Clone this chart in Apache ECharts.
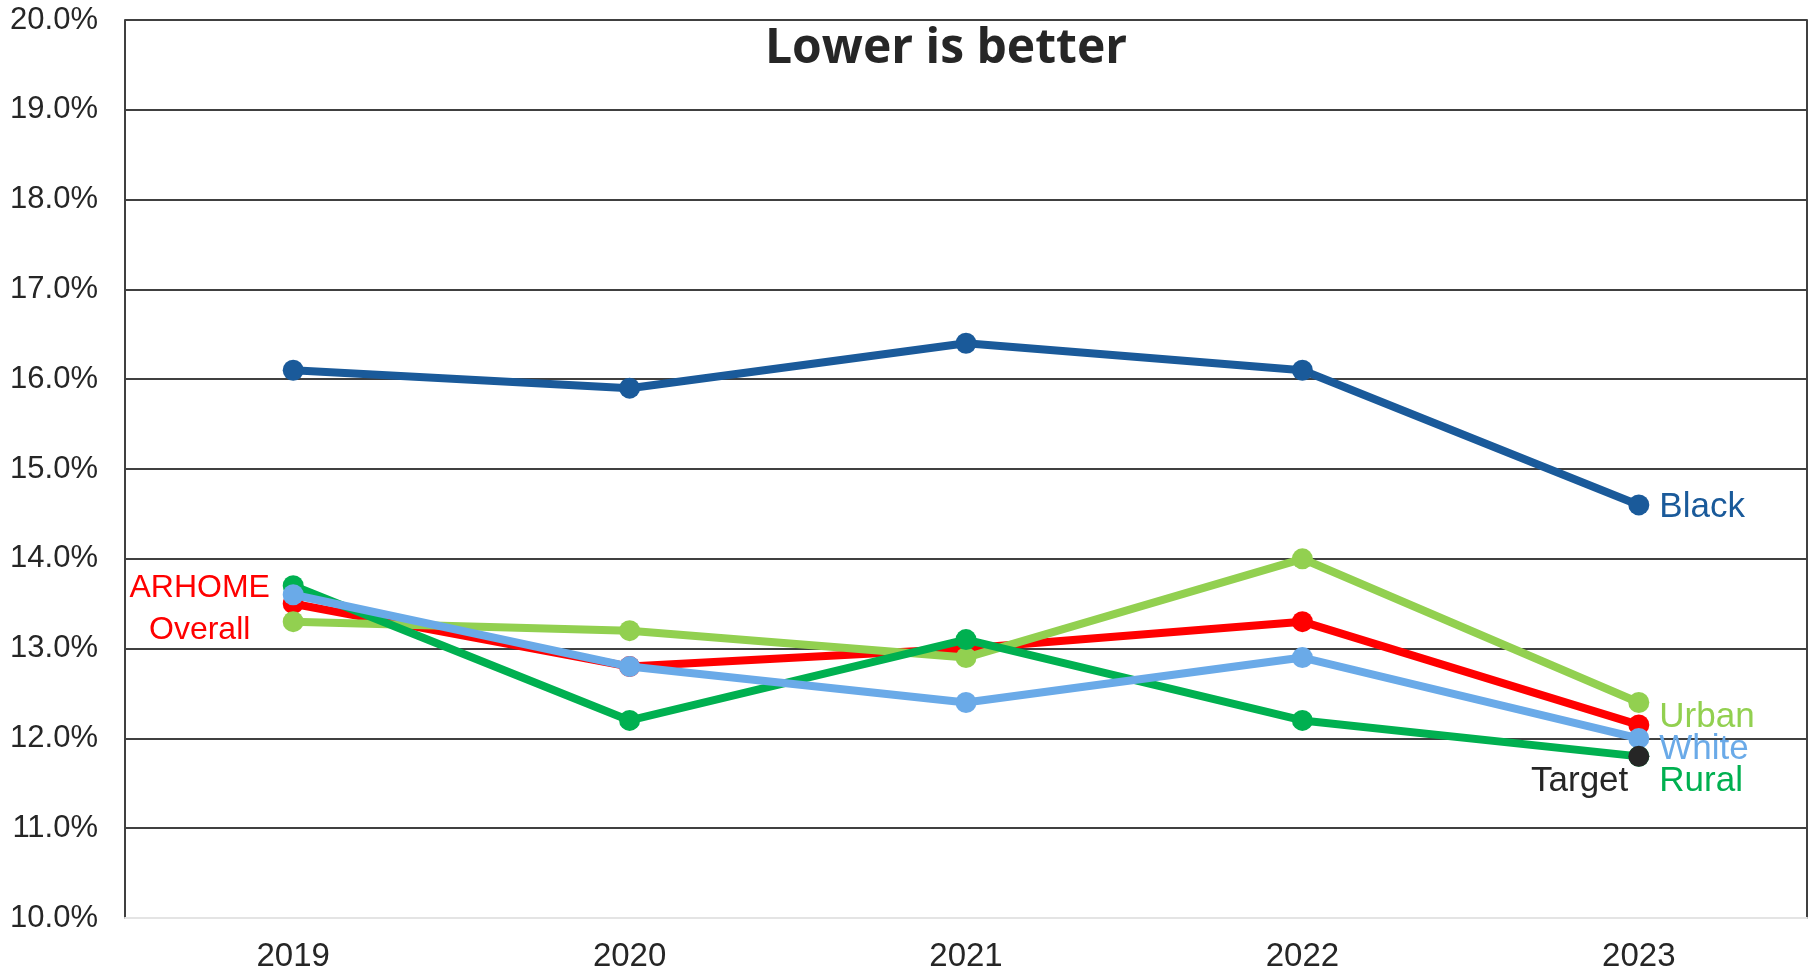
<!DOCTYPE html>
<html>
<head>
<meta charset="utf-8">
<script src="https://cdn.jsdelivr.net/npm/echarts@6/dist/echarts.min.js"></script>
<style>
html,body{margin:0;padding:0;background:#fff;}
#chart{width:1814px;height:973px;}
</style>
</head>
<body>
<div id="chart"></div>
<script>
const years = ['2019', '2020', '2021', '2022', '2023'];
const black = [16.1, 15.9, 16.4, 16.1, 14.6];
const overall = [13.5, 12.8, 13.0, 13.3, 12.15];
const urban = [13.3, 13.2, 12.9, 14.0, 12.4];
const rural = [13.7, 12.2, 13.1, 12.2, 11.8];
const white = [13.6, 12.8, 12.4, 12.9, 12.0];
const target = [null, null, null, null, 11.8];
const yMin = 10, yMax = 20, yStep = 1;
const titleText = 'Lower is better';

const FONT = '"Liberation Sans", Arial, sans-serif';

function lastLabel(arr, text, color, opts) {
  return arr.map((v, i) => {
    if (i !== arr.length - 1) return v;
    return {
      value: v,
      label: Object.assign({
        show: true, formatter: text, color: color,
        fontFamily: FONT, fontSize: 35, position: 'right', distance: 10
      }, opts || {})
    };
  });
}

function mkSeries(name, data, color, z) {
  return {
    name: name, type: 'line', data: data, z: z,
    symbol: 'circle', symbolSize: 21,
    lineStyle: { color: color, width: 8 },
    itemStyle: { color: color },
    emphasis: { disabled: true },
    animation: false
  };
}

const overallData = overall.map((v, i) => {
  if (i !== 0) return v;
  return {
    value: v,
    label: {
      show: true, formatter: 'ARHOME\nOverall', color: '#FF0000',
      fontFamily: FONT, fontSize: 32, position: 'left', distance: 0,
      align: 'center', offset: [-83, 5], lineHeight: 42
    }
  };
});

const chart = echarts.init(document.getElementById('chart'), null, { renderer: 'canvas' });
chart.setOption({
  backgroundColor: '#ffffff',
  animation: false,
  title: {
    text: titleText, left: 941, top: 20, textAlign: 'center',
    textStyle: { fontFamily: '"Open Sans", sans-serif', fontWeight: 'bold', fontSize: 48, color: '#262626' }
  },
  grid: { left: 125, right: 7, top: 20, bottom: 54, containLabel: false },
  xAxis: {
    type: 'category', data: years, boundaryGap: true,
    axisLine: { show: true, lineStyle: { color: '#e4e4e4', width: 2 } },
    axisTick: { show: false },
    axisLabel: { color: '#262626', fontFamily: FONT, fontSize: 33, margin: 22 },
    splitLine: { show: false }
  },
  yAxis: [{
    type: 'value', min: yMin, max: yMax, interval: yStep,
    axisLine: { show: true, lineStyle: { color: '#404040', width: 2 } },
    axisTick: { show: false },
    axisLabel: {
      color: '#262626', fontFamily: FONT, fontSize: 31, margin: 27,
      formatter: v => v.toFixed(1) + '%'
    },
    splitLine: { show: true, lineStyle: { color: ['#e4e4e4', '#404040', '#404040', '#404040', '#404040', '#404040', '#404040', '#404040', '#404040', '#404040', '#404040'], width: 2 } }
  }, {
    type: 'value', min: yMin, max: yMax, interval: yStep, position: 'right',
    axisLine: { show: true, lineStyle: { color: '#404040', width: 2 } },
    axisTick: { show: false }, axisLabel: { show: false }, splitLine: { show: false }
  }],
  series: [
    mkSeries('Black', lastLabel(black, 'Black', '#1A5A9A', { offset: [0, 2] }), '#1A5A9A', 2),
    mkSeries('ARHOME Overall', overallData, '#FF0000', 3),
    mkSeries('Urban', lastLabel(urban, 'Urban', '#92D050', { offset: [0, 15] }), '#92D050', 4),
    mkSeries('Rural', lastLabel(rural, 'Rural', '#00B050', { offset: [0, 25] }), '#00B050', 5),
    mkSeries('White', lastLabel(white, 'White', '#6AAAE8', { offset: [0, 11] }), '#6AAAE8', 6),
    mkSeries('Target', lastLabel(target, 'Target', '#262626', { position: 'left', distance: 0, offset: [0, 25] }), '#262626', 7)
  ]
});
</script>
</body>
</html>
